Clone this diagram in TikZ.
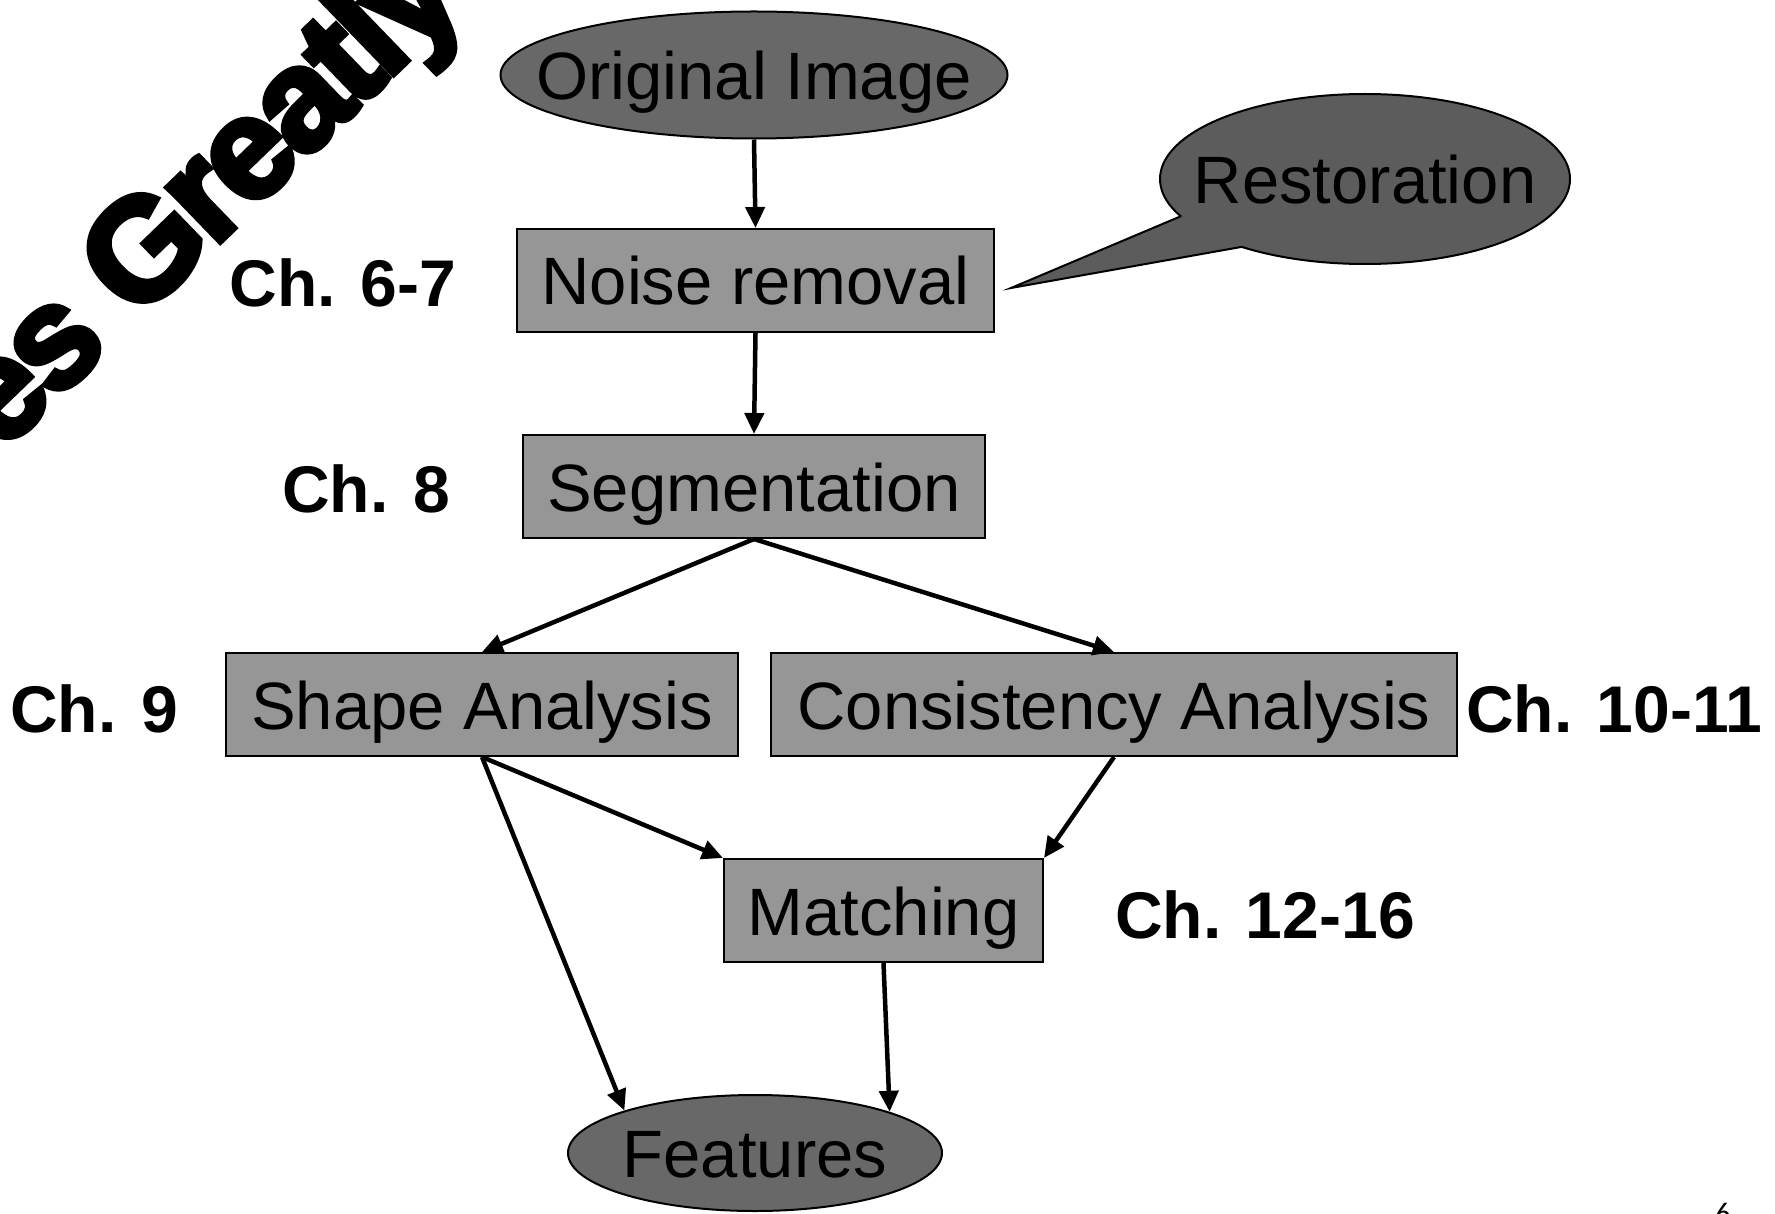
\documentclass[tikz,border=0pt]{standalone}
\usepackage{fontspec}
\setmainfont{Liberation Sans}
\newfontfamily\heavyfont[FakeBold=4,LetterSpace=-4]{Liberation Sans}
\newfontfamily\pagefont{Carlito}
\usetikzlibrary{shapes.geometric,arrows.meta,calc}
\definecolor{boxgray}{RGB}{150,150,150}
\definecolor{ellgray}{RGB}{104,104,104}
\definecolor{restgray}{RGB}{92,92,92}
\tikzset{
  stepbox/.style={rectangle, draw=black, line width=2pt, fill=boxgray, inner sep=0pt,
    text height=61pt, text depth=12pt, font=\fontsize{67}{80}\selectfont},
  ovalnode/.style={ellipse, draw=black, line width=2pt, fill=ellgray, inner sep=0pt,
    text height=61pt, text depth=12pt, font=\fontsize{67}{80}\selectfont},
  chlabel/.style={font=\bfseries\fontsize{66}{78}\selectfont, inner sep=0pt},
  flow/.style={line width=4.5pt, -{Triangle[length=21pt,width=19pt]}}
}
\newcommand{\zw}[1]{\makebox[0pt][c]{#1}}
\begin{document}
\begin{tikzpicture}[x=1pt,y=-1pt]
\useasboundingbox (0,0) rectangle (1775,1214);
\begin{scope}
\clip (0,0) rectangle (1775,1214);
% watermark
\node[rotate=44, font=\heavyfont\bfseries\fontsize{144}{160}\selectfont, inner sep=0pt] (wm) at (209,201) {es Greatly};
% page number
\node[font=\pagefont\fontsize{30}{34}\selectfont, inner sep=0pt] (pg) at (1723,1213) {6};
\end{scope}

% ellipses
\node[ovalnode, minimum width=507pt, minimum height=127pt] (orig) at (754,75) {\zw{Original Image}};
\node[ovalnode, minimum width=374pt, minimum height=116pt] (feat) at (755,1153) {\zw{Features}};

% restoration callout
\node[ovalnode, fill=restgray, minimum width=410pt, minimum height=170pt] (rest) at (1365,179) {};
\coordinate (tip) at (1011,288);
\coordinate (b1) at ($(rest.center)+({205*cos(154)},{85*sin(154)})$);
\coordinate (b2) at ($(rest.center)+({205*cos(127)},{85*sin(127)})$);
\coordinate (bin) at ($(rest.center)+({150*cos(140)},{60*sin(140)})$);
\fill[restgray] (b1) -- (tip) -- (b2) -- (bin) -- cycle;
\draw[line width=2pt, line join=miter] (b1) -- (tip) -- (b2);
\node[font=\fontsize{67}{80}\selectfont, inner sep=0pt, text height=61pt, text depth=12pt] (resttext) at (rest.center) {Restoration};

% boxes
\node[stepbox, minimum width=477pt, minimum height=103pt] (noise) at (755.5,280.5) {Noise removal};
\node[stepbox, minimum width=462pt, minimum height=103pt] (seg) at (754,486.5) {Segmentation};
\node[stepbox, minimum width=512pt, minimum height=103pt] (shape) at (482,704.5) {Shape Analysis};
\node[stepbox, minimum width=686pt, minimum height=103pt] (cons) at (1114,704.5) {Consistency Analysis};
\node[stepbox, minimum width=319pt, minimum height=103pt] (match) at (883.5,910.5) {Matching};

% chapter labels
\node[chlabel] (c67) at (343,283) {Ch. 6-7};
\node[chlabel] (c8) at (366,489) {Ch. 8};
\node[chlabel] (c9) at (94,709) {Ch. 9};
\node[chlabel] (c1011) at (1614,709) {Ch. 10-11};
\node[chlabel] (c1216) at (1265,915) {Ch. 12-16};

% connectors
\draw[flow] (orig.south) -- (noise.north);
\draw[flow] (noise.south) -- (seg.north);
\draw[flow] (seg.south) -- (shape.north);
\draw[flow] (seg.south) -- (cons.north);
\draw[flow] (shape.south) -- (match.north west);
\draw[flow] (shape.south) -- (feat.162);
\draw[flow] (cons.south) -- (match.north east);
\draw[flow] (match.south) -- (feat.17);
\end{tikzpicture}
\end{document}
